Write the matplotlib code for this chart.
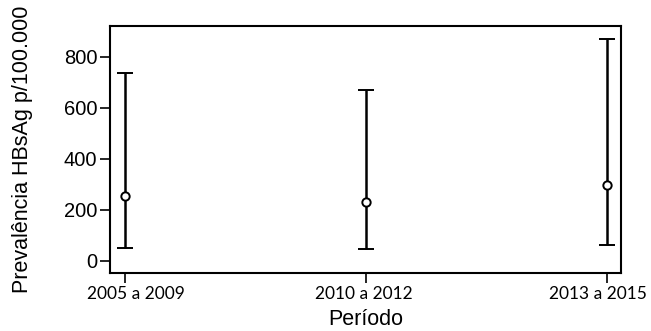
import matplotlib
matplotlib.use('Agg')
import matplotlib.pyplot as plt
import matplotlib.transforms as mtransforms
import numpy as np

# data
periodos = ['2005 a 2009', '2010 a 2012', '2013 a 2015']
prevalencia = [254, 229, 297]
ic_inferior = [51, 46, 60]
ic_superior = [737, 669, 869]

x = np.arange(len(periodos))
prev = np.array(prevalencia)
err = [prev - np.array(ic_inferior), np.array(ic_superior) - prev]

fig = plt.figure(figsize=(6.51, 3.31), dpi=100)
ax = fig.add_axes([110 / 651, 1 - 273 / 331, 511 / 651, 247 / 331])

ax.errorbar(x, prev, yerr=err, fmt='o', mfc='white', mec='black', mew=1.4,
            ms=6, ecolor='black', elinewidth=1.8, capsize=5.5, capthick=1.6)

ax.set_xlim(-0.062, 2.06)
ax.set_ylim(-49, 920)
ax.set_yticks([0, 200, 400, 600, 800])
ax.set_xticks(x)
ax.set_xticklabels([])
for lab in ax.get_yticklabels():
    lab.set_fontfamily('Liberation Sans')
    lab.set_fontsize(14.5)

# x tick labels drawn as text; the outer ones sit a bit inward in the original
shifts = [11, -2, -9]
base = ax.get_xaxis_transform()
for xi, txt, dx in zip(x, periodos, shifts):
    tr = base + mtransforms.ScaledTranslation(dx / 100, -13 / 100, fig.dpi_scale_trans)
    ax.text(xi, 0, txt, transform=tr, ha='center', va='top',
            fontfamily='Lato', fontsize=12.5, clip_on=False)

ax.tick_params(axis='both', direction='out', length=7, width=1.2, color='black')
ax.tick_params(axis='y', pad=2)
for s in ax.spines.values():
    s.set_linewidth(1.5)
    s.set_color('black')

ax.set_ylabel('Prevalência HBsAg p/100.000', fontfamily='Liberation Sans', fontsize=15.5)
ax.yaxis.set_label_coords(-77 / 511, 0.5)
ax.set_xlabel('Período', fontfamily='Liberation Sans', fontsize=15.5)
ax.xaxis.set_label_coords(0.5, -36 / 247)

fig.savefig('out.png', dpi=100)
